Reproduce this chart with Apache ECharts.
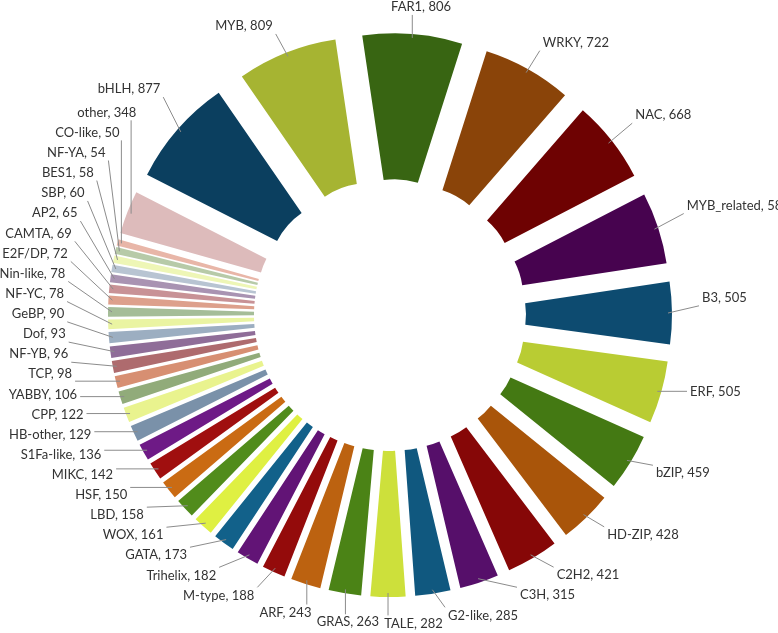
<!DOCTYPE html>
<html>
<head>
<meta charset="utf-8">
<script src="https://cdn.jsdelivr.net/npm/echarts@6/dist/echarts.min.js"></script>
<style>html,body{margin:0;padding:0;background:#fff}#chart{width:778px;height:633px}</style>
</head>
<body>
<div id="chart"></div>
<script>
var categories = ["bHLH","MYB","FAR1","WRKY","NAC","MYB_related","B3","ERF","bZIP","HD-ZIP","C2H2","C3H","G2-like","TALE","GRAS","ARF","M-type","Trihelix","GATA","WOX","LBD","HSF","MIKC","S1Fa-like","HB-other","CPP","YABBY","TCP","NF-YB","Dof","GeBP","NF-YC","Nin-like","E2F/DP","CAMTA","AP2","SBP","BES1","NF-YA","CO-like","other"];
var values = [877,809,806,722,668,581,505,505,459,428,421,315,285,282,263,243,188,182,173,161,158,150,142,136,129,122,106,98,96,93,90,78,78,72,69,65,60,58,54,50,348];
var colors = ["#0B3F5F","#A6B432","#386512","#8A4409","#6E0202","#47034F",
              "#0D4B70","#B9CC33","#447913","#A9550A","#860707","#560F6A",
              "#10587F","#CDE03B","#4B8316","#BC6210","#940B0B","#621476",
              "#12618A","#DFF042","#518C1B","#CA6B13","#A00F0F","#6E1A86",
              "#7A91A9","#E9F38E","#91AB7A","#D78F72","#AE6B6E","#8F6D98",
              "#9CAEC1","#EAF4A2","#A5BD98","#DDA08C","#C89296","#A993B2",
              "#B8C4D2","#EEF6B6","#B7CAA8","#E8B6A8","#DDBBBB"];

// ring geometry and label styling
var CX = 390, CY = 315, R_IN = 76, R_OUT = 222, OFFSET = 60, START = 153;
var FONT_SIZE = 13, FONT = 'Lato', LABEL_H = 16, TEXT_COLOR = '#333333', LINE_COLOR = '#8c8c8c';
// ellipse on which the labels are set
var LCY = 300, RX_LEFT = 326, RX_RIGHT = 312, RY_TOP = 286, RY_BOT = 316;
var LEFT_BIAS = 4; // degrees: left-hand labels start a little further clockwise

var n = values.length;
function labelText(i) { return categories[i] + ', ' + values[i]; }
function clamp(v, a, b) { return Math.max(a, Math.min(b, v)); }

var chart = echarts.init(document.getElementById('chart'), null, {renderer: 'canvas'});

function build() {
  // slice mid-angles (degrees clockwise from 12 o'clock), as in the pie's own layout
  var total = values.reduce(function (a, b) { return a + b; }, 0);
  var theta = [], acc = 0;
  for (var i = 0; i < n; i++) {
    theta.push((90 - START) + (acc + values[i] / 2) / total * 360);
    acc += values[i];
  }
  var mctx = document.createElement('canvas').getContext('2d');
  mctx.font = FONT_SIZE + 'px ' + FONT;
  var widths = [];
  for (var i = 0; i < n; i++) widths.push(mctx.measureText(labelText(i)).width);

  function boxAt(phi, i) {
    var r = phi * Math.PI / 180, s = Math.sin(r), c = Math.cos(r);
    var rx = s < 0 ? RX_LEFT : RX_RIGHT;
    var ry = c > 0 ? RY_TOP : RY_BOT;
    var qx = CX + rx * s, qy = LCY - ry * c;
    var kx = clamp(s * 2.5, -1, 1), ky = clamp(-c * 2.5, -1, 1);
    var w = widths[i], h = LABEL_H;
    return {x: qx + kx * w / 2 - w / 2, y: qy + ky * h / 2 - h / 2, w: w, h: h};
  }
  function overlap(a, b) {
    var px = 5, py = 4;
    return a.x < b.x + b.w + px && b.x < a.x + a.w + px && a.y < b.y + b.h + py && b.y < a.y + a.h + py;
  }
  // push neighbouring labels apart along the ellipse until none overlap
  var phi = theta.map(function (t) {
    var m = ((t % 360) + 360) % 360;
    return (m > 185 && m < 320) ? t + LEFT_BIAS : t;
  });
  for (var it = 0; it < 8000; it++) {
    var moved = false;
    for (var i = 0; i < n; i++) {
      var j = (i + 1) % n;
      if (overlap(boxAt(phi[i], i), boxAt(phi[j], j))) {
        phi[i] -= 0.05; phi[j] += 0.05; moved = true;
      }
    }
    if (!moved) break;
  }

  var graphics = [];
  for (var i = 0; i < n; i++) {
    var b = boxAt(phi[i], i);
    var r = theta[i] * Math.PI / 180;
    var ra = R_OUT + OFFSET - 4;
    var ax = CX + ra * Math.sin(r), ay = CY - ra * Math.cos(r);
    var tx = clamp(ax, b.x - 3, b.x + b.w + 3), ty = clamp(ay, b.y, b.y + b.h);
    graphics.push({
      type: 'polyline', silent: true, z: 5,
      shape: {points: [[ax, ay], [tx, ty]]},
      style: {stroke: LINE_COLOR, lineWidth: 1, fill: null}
    });
    graphics.push({
      type: 'text', silent: true, z: 6, x: b.x, y: b.y,
      style: {text: labelText(i), font: FONT_SIZE + 'px ' + FONT, fill: TEXT_COLOR,
               align: 'left', verticalAlign: 'top', lineHeight: LABEL_H}
    });
  }

  chart.setOption({
    animation: false,
    backgroundColor: '#ffffff',
    graphic: {elements: graphics},
    series: [{
      type: 'pie',
      center: [CX, CY],
      radius: [R_IN, R_OUT],
      startAngle: START,
      clockwise: true,
      selectedMode: 'multiple',
      selectedOffset: OFFSET,
      data: categories.map(function (c, i) {
        return {name: c, value: values[i], selected: true, itemStyle: {color: colors[i]}};
      }),
      emphasis: {disabled: true},
      label: {show: false},
      labelLine: {show: false}
    }]
  }, true);
}

build();
if (document.fonts && document.fonts.load) {
  document.fonts.load(FONT_SIZE + 'px ' + FONT).then(build, function () {});
}
</script>
</body>
</html>
